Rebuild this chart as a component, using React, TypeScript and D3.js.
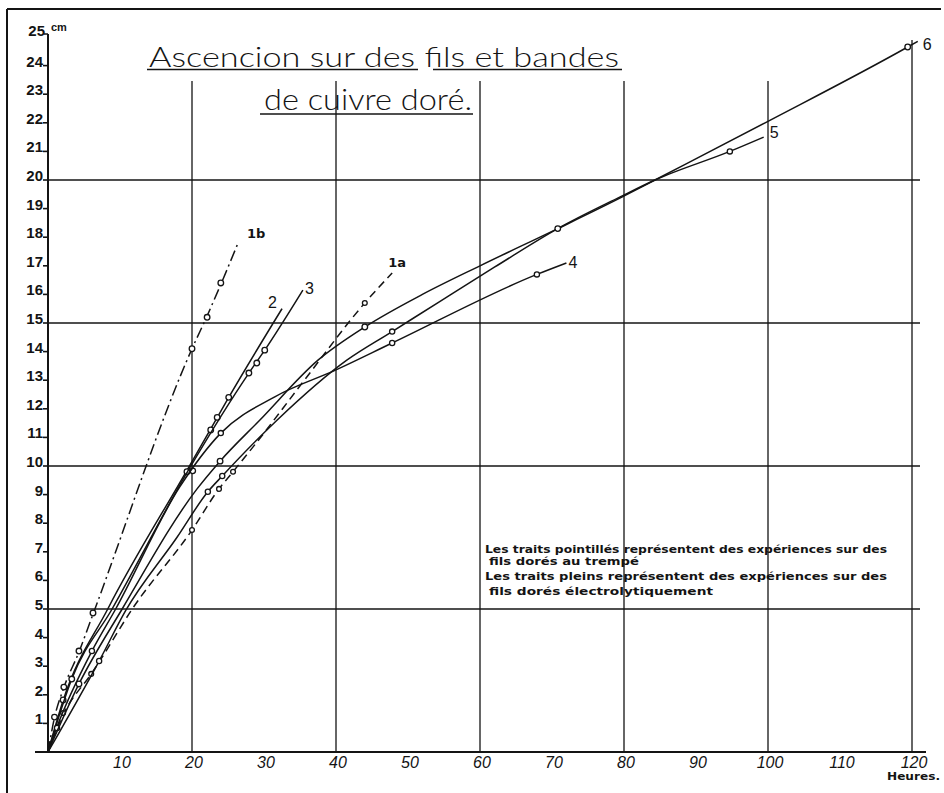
import React, { useEffect } from 'react';
import * as d3 from 'd3';

type Pt = [number, number];

// ---- axis ticks ----
const hourLabels: number[] = [10, 20, 30, 40, 50, 60, 70, 80, 90, 100, 110, 120];
const cmLabels: number[] = [1, 2, 3, 4, 5, 6, 7, 8, 9, 10, 11, 12, 13, 14, 15, 16, 17, 18, 19, 20, 21, 22, 23, 24];
const gridHours: number[] = [20, 40, 60, 80, 100, 120];
const gridCm: number[] = [5, 10, 15, 20];

// ---- series (hours, cm) ----
const line1a: Pt[] = [[0, 0], [2.1, 1.3], [6.0, 2.73], [7.1, 3.15], [11.7, 5], [20, 7.76], [23.75, 9.2], [25.7, 9.8], [28.9, 10.8], [35.3, 12.9], [44, 15.7], [47.8, 16.75]];
const marks1a: Pt[] = [[2.1, 1.36], [6.0, 2.73], [20, 7.76], [23.75, 9.2], [25.7, 9.8], [44, 15.7]];

const line1b: Pt[] = [[0, 0], [0.9, 1.2], [2.2, 2.25], [4.3, 3.5], [6.3, 4.85], [20, 14.1], [22.1, 15.25], [24, 16.35], [26.4, 17.8]];
const marks1b: Pt[] = [[0.9, 1.22], [2.2, 2.27], [4.3, 3.53], [6.25, 4.86], [20, 14.1], [22.1, 15.2], [24, 16.4]];

const line2: Pt[] = [[0, 0], [2.1, 1.8], [8.3, 5], [19.3, 9.85], [22.6, 11.3], [25.1, 12.4], [32.5, 15.5]];
const marks2: Pt[] = [[2.1, 1.82], [19.3, 9.8], [22.6, 11.26], [23.5, 11.7], [25.1, 12.4]];

const line3: Pt[] = [[0, 0], [3.3, 2.55], [8.9, 5], [19.6, 9.9], [27.9, 13.25], [30.1, 14.05], [35.4, 16.15]];
const marks3: Pt[] = [[3.3, 2.55], [20.1, 9.83], [27.9, 13.25], [29, 13.6], [30.1, 14.05]];

const line4: Pt[] = [[0, 0], [1.25, 0.88], [6.1, 3.53], [9.4, 5], [18.3, 9.27], [24, 11.15], [31.5, 12.42], [40, 13.36], [47.8, 14.3], [67.9, 16.7], [72, 17.1]];
const marks4: Pt[] = [[1.25, 0.84], [6.1, 3.53], [24, 11.15], [47.8, 14.3], [67.9, 16.7]];

const line5: Pt[] = [[0, 0], [7.1, 3.18], [10.8, 4.95], [17.9, 7.5], [22.2, 9.1], [24.2, 9.65], [31.8, 11.6], [41.5, 13.7], [47.8, 14.7], [54.4, 15.75], [62, 16.95], [70.8, 18.3], [79.4, 19.4], [84.3, 20], [94.7, 21.0], [99.4, 21.5]];
const marks5: Pt[] = [[7.1, 3.18], [22.2, 9.1], [24.2, 9.65], [47.8, 14.7], [94.7, 21.0]];

const line6: Pt[] = [[0, 0], [4.3, 2.38], [10.3, 5], [20.7, 9.2], [23.9, 10.17], [29.4, 11.6], [37.5, 13.7], [44, 14.86], [52, 16.0], [60, 17.0], [70.8, 18.3], [79.7, 19.4], [84.3, 20], [99.6, 22], [119.4, 24.65], [120.8, 24.85]];
const marks6: Pt[] = [[4.3, 2.38], [23.9, 10.17], [44, 14.86], [70.8, 18.3], [119.4, 24.65]];

const seriesNames: string[] = ['1a', '1b', '2', '3', '4', '5', '6'];

const legendLines: string[] = [
  'Les traits pointillés représentent des expériences sur des',
  'fils dorés  au trempé',
  'Les traits pleins représentent des expériences sur des',
  'fils dorés électrolytiquement',
];

const W = 944;
const H = 793;

const x = d3.scaleLinear().domain([0, 120]).range([48, 912]);
const y = d3.scaleLinear().domain([0, 25]).range([752, 37]);

const lineGen = d3
  .line<Pt>()
  .x((d) => x(d[0]))
  .y((d) => y(d[1]))
  .curve(d3.curveMonotoneX);

const INK = '#141414';

type Series = {
  name: string;
  line: Pt[];
  marks: Pt[];
  dash?: string;
  dx: number;
  dy: number;
  bold: boolean;
  size: number;
  markR: number;
};

const series: Series[] = [
  { name: seriesNames[0], line: line1a, marks: marks1a, dash: '8,5', dx: -4, dy: -6, bold: true, size: 13, markR: 2.4 },
  { name: seriesNames[1], line: line1b, marks: marks1b, dash: '11,4,2,4', dx: 9, dy: -5, bold: true, size: 13, markR: 2.8 },
  { name: seriesNames[2], line: line2, marks: marks2, dx: -14, dy: -1, bold: false, size: 16, markR: 2.8 },
  { name: seriesNames[3], line: line3, marks: marks3, dx: 2, dy: 4, bold: false, size: 16, markR: 2.8 },
  { name: seriesNames[4], line: line4, marks: marks4, dx: 2, dy: 5, bold: false, size: 16, markR: 2.6 },
  { name: seriesNames[5], line: line5, marks: marks5, dx: 6, dy: 1, bold: false, size: 16, markR: 2.6 },
  { name: seriesNames[6], line: line6, marks: marks6, dx: 5, dy: 9, bold: false, size: 16, markR: 2.8 },
];

const legendX: number[] = [485, 489, 485, 489];
const legendY: number[] = [553, 565, 580, 595];
const legendLen: number[] = [402, 150, 402, 224];

export default function App() {
  useEffect(() => {
    document.body.style.margin = '0';
  }, []);

  return (
    <svg
      width={W}
      height={H}
      viewBox={`0 0 ${W} ${H}`}
      style={{ position: 'absolute', left: 0, top: 0, background: '#fff' }}
    >
      <rect x={0} y={0} width={W} height={H} fill="#fff" />
      {/* frame */}
      <line x1={7} y1={9} x2={941} y2={9} stroke={INK} strokeWidth={2} />
      <line x1={7} y1={9} x2={7} y2={793} stroke={INK} strokeWidth={2} />

      {/* grid */}
      {gridHours.map((h) => (
        <line
          key={'gv' + h}
          x1={x(h)}
          x2={x(h)}
          y1={y(0)}
          y2={h === 120 ? 40 : 81}
          stroke={INK}
          strokeWidth={1.3}
        />
      ))}
      {gridCm.map((c) => (
        <line key={'gh' + c} x1={x(0)} x2={920} y1={y(c)} y2={y(c)} stroke={INK} strokeWidth={1.4} />
      ))}

      {/* axes */}
      <line x1={35} x2={926} y1={y(0)} y2={y(0)} stroke={INK} strokeWidth={2} />
      <line x1={x(0)} x2={x(0)} y1={y(0)} y2={y(25) - 3} stroke={INK} strokeWidth={2} />
      <line x1={44} x2={x(0)} y1={y(25) - 3} y2={y(25) - 3} stroke={INK} strokeWidth={1.5} />

      {cmLabels.map((c) => (
        <g key={'yl' + c}>
          <line x1={43} x2={x(0)} y1={y(c)} y2={y(c)} stroke={INK} strokeWidth={1.6} />
          <text
            x={43}
            y={y(c) + 1}
            textAnchor="end"
            fontFamily="Liberation Sans, Arial, sans-serif"
            fontWeight="bold"
            fontSize={15}
            fill={INK}
          >
            {c}
          </text>
        </g>
      ))}
      <text x={45} y={y(25) - 1} textAnchor="end" fontFamily="Liberation Sans, Arial, sans-serif" fontWeight="bold" fontSize={15} fill={INK}>
        25
      </text>
      <text x={51} y={y(25) - 6} fontFamily="Liberation Sans, Arial, sans-serif" fontWeight="bold" fontSize={11} fill={INK}>
        cm
      </text>

      {hourLabels.map((h) => (
        <text
          key={'xl' + h}
          x={x(h) + 2}
          y={y(0) + 16}
          textAnchor="middle"
          fontFamily="Liberation Sans, Arial, sans-serif"
          fontStyle="italic"
          fontSize={16}
          fill={INK}
        >
          {h}
        </text>
      ))}
      <text x={887} y={780} fontFamily="DejaVu Sans, sans-serif" fontWeight="bold" fontSize={11} fill={INK} textLength={53} lengthAdjust="spacingAndGlyphs">
        Heures.
      </text>

      {/* title */}
      <text
        x={149}
        y={67}
        fontFamily="Lato, Open Sans, sans-serif"
        fontWeight={300}
        fontSize={28}
        fill={INK}
        textLength={470}
        lengthAdjust="spacingAndGlyphs"
      >
        Ascencion sur des fils et bandes
      </text>
      <line x1={147} x2={418} y1={69.5} y2={69.5} stroke={INK} strokeWidth={1.6} />
      <line x1={433} x2={622} y1={69.5} y2={69.5} stroke={INK} strokeWidth={1.6} />
      <text
        x={264}
        y={110}
        fontFamily="Lato, Open Sans, sans-serif"
        fontWeight={300}
        fontSize={30}
        fill={INK}
        textLength={208}
        lengthAdjust="spacingAndGlyphs"
      >
        de cuivre doré.
      </text>
      <line x1={260} x2={473} y1={114} y2={114} stroke={INK} strokeWidth={1.6} />

      {/* legend */}
      {legendLines.map((t, i) => (
        <text
          key={'lg' + i}
          x={legendX[i]}
          y={legendY[i]}
          fontFamily="DejaVu Sans, sans-serif"
          fontWeight="bold"
          fontSize={11}
          fill={INK}
          textLength={legendLen[i]}
          lengthAdjust="spacingAndGlyphs"
        >
          {t}
        </text>
      ))}

      {/* series */}
      {series.map((s) => {
        const last = s.line[s.line.length - 1];
        return (
          <g key={'s' + s.name}>
            <path
              d={lineGen(s.line) || ''}
              fill="none"
              stroke={INK}
              strokeWidth={1.5}
              strokeDasharray={s.dash}
            />
            {s.marks.map((m, i) => (
              <circle
                key={i}
                cx={x(m[0])}
                cy={y(m[1])}
                r={s.markR}
                fill="#fff"
                stroke={INK}
                strokeWidth={1.3}
              />
            ))}
            <text
              x={x(last[0]) + s.dx}
              y={y(last[1]) + s.dy}
              fontFamily={s.bold ? 'DejaVu Sans, sans-serif' : 'Liberation Sans, Arial, sans-serif'}
              fontWeight={s.bold ? 'bold' : 'normal'}
              fontSize={s.size}
              fill={INK}
            >
              {s.name}
            </text>
          </g>
        );
      })}
    </svg>
  );
}
